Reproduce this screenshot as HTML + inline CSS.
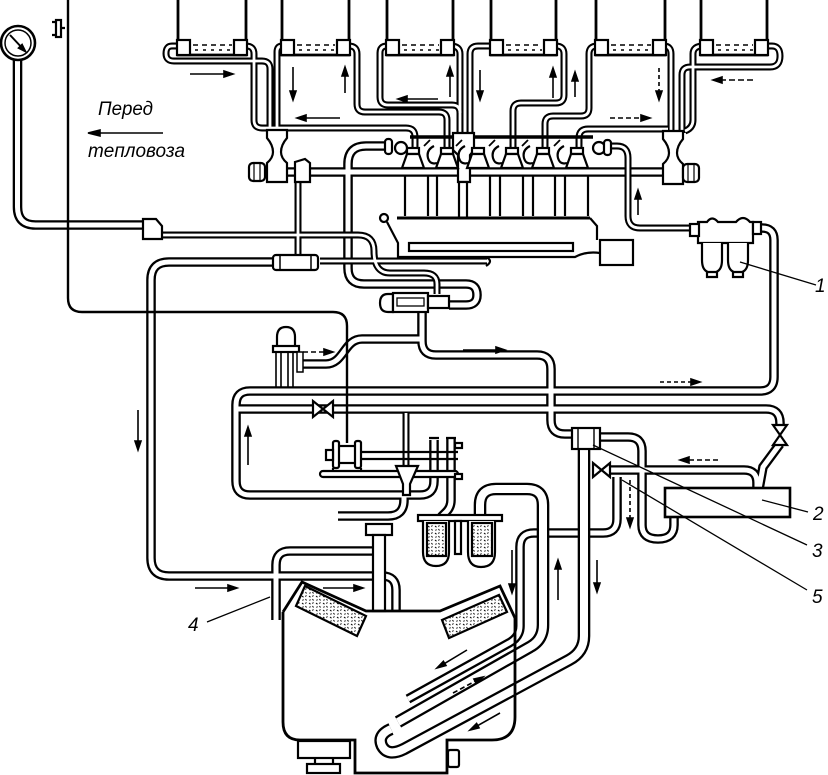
<!DOCTYPE html>
<html><head><meta charset="utf-8"><style>
html,body{margin:0;padding:0;background:#fff}
svg{display:block}
text{font-family:"Liberation Sans","DejaVu Sans",sans-serif;font-style:italic;fill:#000}
</style></head><body>
<svg width="828" height="775" viewBox="0 0 828 775" xmlns="http://www.w3.org/2000/svg">
<defs>
<pattern id="st" width="7" height="7" patternUnits="userSpaceOnUse">
<rect width="7" height="7" fill="#fff"/>
<path d="M1 1l1.5 1.2M4.5 4l1 1.5M5.5 0.5l-1.2 1M1.5 5.5l1-1" stroke="#000" stroke-width="1"/>
</pattern>
<g id="gS" fill="none">
<path d="M178,46 L172,46 Q166,46 166,53.5 Q166,61 174,61 L262,61 Q270,61 270,69 L270,132"/>
<path d="M246,46 Q254,46 254,54 L254,120 Q254,128 262,128 L406,128 Q415,128 415,137 L415,152"/>
<path d="M282,46 Q277,46 277,52 L277,132"/>
<path d="M349,46 Q357,46 357,54 L357,104 Q357,112 365,112 L439,112 Q447,112 447,120 L447,152"/>
<path d="M387,46 Q380,46 380,53 L380,97 Q380,105 388,105 L452,105 Q460,105 460,113"/>
<path d="M451,46 Q460,46 460,54 L460,134"/>
<path d="M491,46 L478,46 Q470,46 470,54 L470,134"/>
<path d="M556,46 Q564,46 564,54 L564,95 Q564,103 556,103 L521,103 Q513,103 513,111 L513,152"/>
<path d="M597,46 Q589,46 589,54 L589,108 Q589,116 581,116 L553,116 Q545,116 545,124 L545,152"/>
<path d="M668,129 L588,129 Q579,129 579,138 L579,152"/>
<path d="M664,46 Q671,46 671,54 L671,133"/>
<path d="M703,46 Q693,46 693,54 L693,120 Q693,128 685,131"/>
<path d="M766,46 L772,46 Q780,46 780,56 Q780,67 770,67 L690,67 Q682,67 682,75 L682,133"/>
<path d="M606,146 L617,146 Q628,146 628,158 L628,216 Q628,228 640,228 L691,228"/>
<path d="M298,182 L298,256"/>
<path d="M406,413 L406,467"/>
<path d="M161,235 L358,235 Q374,235 374,251 Q374,273 390,273 L424,273 Q437,273 437,284 L437,294"/>
<path d="M487,261 L320,261"/>
</g>
<g id="gM" fill="none">
<path d="M250,172 L700,172"/>
<path d="M17.5,60 L17.5,207 Q17.5,225 35.5,225 L145,225"/>
<path d="M390,146 L366,146 Q348,146 348,164 L348,268 Q348,284 364,284 L466,284 Q477,284 477,295 Q477,305 466,305 L449,305"/>
<path d="M273,262 L169,262 Q151,262 151,280 L151,558 Q151,576 169,576 L382,576 Q396,576 396,590 L396,612"/>
<path d="M422,311 L422,341 Q422,355 436,355 L537,355 Q551,355 551,369 L551,420 Q551,434 565,434 L573,434"/>
<path d="M300,364 L326,364 C344,364 344,339 362,339 L420,339"/>
<path d="M759,228 L762,228 Q774,228 774,240 L774,377 Q774,391 760,391 L250,391 Q236,391 236,405 L236,481 Q236,495 250,495 L420,495 Q434,495 434,481 L434,440"/>
<path d="M238,409 L766,409 Q780,409 780,423 L780,426"/>
<path d="M599,437 L628,437 Q642,437 642,451 L642,525 Q642,539 658,539 Q674,539 674,525 L674,517"/>
<path d="M338,516 L388,516 Q404,516 404,500 L404,496"/>
<path d="M373,551 L290,551 Q276,551 276,565 L276,620"/>
<path d="M610,470 L744,470 Q757,470 757,483 L757,489"/>
<path d="M780,444 L763,467 L759,489"/>
<path d="M617,477 L617,519 Q617,533 603,533 L534,533 Q520,533 520,547 L520,626 Q520,637 509,643 L408,699"/>
<path d="M451,438 L451,500 Q451,508 445,513 L441,517"/>
</g>
<g id="gL" fill="none">
<path d="M480,516 L480,505 Q480,489 496,489 L527,489 Q543,489 543,505 L543,625 Q543,640 530,647 L398,722"/>
<path d="M584,450 L584,636 Q584,652 569,660 L404,749 Q388,757 382,746 Q377,735 391,729"/>
</g>
</defs>

<rect width="828" height="775" fill="#fff"/>

<!-- pipes -->
<use href="#gM" stroke="#000" stroke-width="9.6"/>
<use href="#gM" stroke="#fff" stroke-width="5"/>
<use href="#gS" stroke="#000" stroke-width="7"/>
<use href="#gS" stroke="#fff" stroke-width="2.8"/>
<use href="#gL" stroke="#000" stroke-width="12.6"/>
<use href="#gL" stroke="#fff" stroke-width="8"/>

<g stroke="#000" stroke-width="2.2" fill="none">
<!-- gauge -->
<circle cx="18" cy="43" r="17" fill="#fff" stroke-width="2.6"/>
<circle cx="18" cy="43" r="13" stroke-width="1.5"/>
<path d="M10,35 L25,51" stroke-width="2"/>
<polygon points="25,51 19,48 22,45" fill="#000"/>
<!-- small bracket -->
<rect x="56" y="20" width="5" height="17" fill="#fff"/>
<path d="M52,22 H56 M52,35 H56 M61,28 H65"/>
<!-- long thin line -->
<path d="M68,0 V298 Q68,312 82,312 H333 Q347,312 347,326 V443" stroke-width="2.4"/>

<!-- tanks -->
<g stroke-width="2.8">
<path d="M178,0 V55 H246 V0"/>
<path d="M282,0 V55 H349 V0"/>
<path d="M387,0 V55 H453 V0"/>
<path d="M491,0 V55 H556 V0"/>
<path d="M596,0 V55 H665 V0"/>
<path d="M701,0 V55 H767 V0"/>
</g>
<g fill="#fff">
<rect x="177" y="40" width="13" height="15"/><rect x="234" y="40" width="13" height="15"/>
<rect x="281" y="40" width="13" height="15"/><rect x="337" y="40" width="13" height="15"/>
<rect x="386" y="40" width="13" height="15"/><rect x="441" y="40" width="13" height="15"/>
<rect x="490" y="40" width="13" height="15"/><rect x="544" y="40" width="13" height="15"/>
<rect x="595" y="40" width="13" height="15"/><rect x="653" y="40" width="13" height="15"/>
<rect x="700" y="40" width="13" height="15"/><rect x="755" y="40" width="13" height="15"/>
</g>
<g stroke-width="1.6" stroke-dasharray="5 4">
<path d="M193,45 H232 M297,45 H335 M402,45 H439 M506,45 H542 M611,45 H651 M716,45 H753"/>
</g>
<g stroke-width="1.4" stroke-dasharray="3 5">
<path d="M195,50 H232 M299,50 H335 M404,50 H439 M508,50 H542 M613,50 H651 M718,50 H753"/>
</g>

<!-- cam bar -->
<path d="M410,137 H593" stroke-width="3.5"/>
<!-- fittings on manifold -->
<path d="M267,130 H287 V138 Q281,145 281,152 Q281,158 287,163 V182 H267 V163 Q273,158 273,152 Q273,145 267,138 Z" fill="#fff"/>
<path d="M663,131 H683 V139 Q677,146 677,153 Q677,159 683,164 V184 H663 V164 Q669,159 669,153 Q669,146 663,139 Z" fill="#fff"/>
<rect x="249" y="163" width="16" height="18" rx="4" fill="#fff"/>
<path d="M254,163 V181 M260,163 V181" stroke-width="1.2"/>
<rect x="683" y="164" width="16" height="18" rx="4" fill="#fff"/>
<path d="M688,164 V182 M694,164 V182" stroke-width="1.2"/>
<path d="M295,162 L305,159 L310,163 V182 H295 Z" fill="#fff"/>
<path d="M453,133 H474 V150 L470,155 V182 H458 V155 L453,150 Z" fill="#fff"/>
<rect x="459" y="182" width="8" height="36" fill="#fff"/>
<!-- pumps -->
<g fill="#fff">
<rect x="407" y="148" width="12" height="6"/><polygon points="407,154 419,154 424,168 402,168"/>
<rect x="441" y="148" width="12" height="6"/><polygon points="441,154 453,154 458,168 436,168"/>
<rect x="472" y="148" width="12" height="6"/><polygon points="472,154 484,154 489,168 467,168"/>
<rect x="506" y="148" width="12" height="6"/><polygon points="506,154 518,154 523,168 501,168"/>
<rect x="537" y="148" width="12" height="6"/><polygon points="537,154 549,154 554,168 532,168"/>
<rect x="571" y="148" width="12" height="6"/><polygon points="571,154 583,154 588,168 566,168"/>
</g>
<path d="M434,146 Q426,150 428,158 Q430,165 437,163 M465,146 Q457,150 459,158 Q461,165 468,163 M499,146 Q491,150 493,158 Q495,165 502,163 M530,146 Q522,150 524,158 Q526,165 533,163 M564,146 Q556,150 558,158 Q560,165 567,163" stroke-width="2.2"/>
<path d="M424,146 L430,140 M456,146 L462,140 M489,146 L495,140 M522,146 L528,140 M554,146 L560,140" stroke-width="1.8"/>
<!-- valves rings -->
<rect x="385" y="139" width="7" height="15" rx="3" fill="#fff"/>
<circle cx="401" cy="148" r="6" fill="#fff"/>
<circle cx="599" cy="148" r="6" fill="#fff"/>
<rect x="604" y="140" width="7" height="15" rx="3" fill="#fff"/>

<!-- pushrods -->
<path d="M405,176 V216 M428,176 V216 M437,176 V216 M490,176 V216 M500,176 V216 M523,176 V216 M533,176 V216 M555,176 V216 M565,176 V216 M588,176 V216"/>
<!-- engine block -->
<path d="M397,218 H590" stroke-width="3"/>
<circle cx="384" cy="218" r="4"/>
<path d="M387,222 L398,243 L398,257 H575 Q586,251 600,253"/>
<path d="M590,218 L597,226 V240"/>
<rect x="409" y="243" width="164" height="8" fill="#fff"/>
<rect x="600" y="240" width="33" height="25" fill="#fff" stroke-width="2.2"/>
<!-- pipe ends -->
<path d="M486,257 Q494,261 486,266"/>
<!-- gauge pipe fitting -->
<path d="M143,219 L156,219 L162,226 V239 H143 Z" fill="#fff"/>
<!-- fitting on y262 pipe -->
<rect x="273" y="255" width="45" height="15" rx="3" fill="#fff"/>
<path d="M280,255 V270 M311,255 V270" stroke-width="1.5"/>
<!-- fuel pump -->
<path d="M393,294 H388 Q380,294 380,303 Q380,312 388,312 H393 Z" fill="#fff"/>
<rect x="393" y="293" width="35" height="19" fill="#fff"/>
<rect x="397" y="298" width="27" height="8" stroke-width="1.3"/>
<rect x="428" y="296" width="21" height="12" fill="#fff"/>
<!-- bleed cylinder -->
<path d="M277,347 V337 Q277,327 286,327 Q295,327 295,337 V347" fill="#fff"/>
<rect x="273" y="346" width="26" height="6" fill="#fff"/>
<path d="M276,352 V388 M281,352 V388 M288,352 V388 M293,352 V388" stroke-width="1.6"/>
<rect x="297" y="352" width="6" height="20" fill="#fff" stroke-width="1.5"/>

<!-- filter 1 -->
<path d="M698,243 V222 H707 Q712,215 718,222 H736 Q743,214 750,222 H753 V243 Z" fill="#fff"/>
<rect x="690" y="224" width="9" height="12" fill="#fff"/>
<rect x="753" y="222" width="8" height="12" fill="#fff"/>
<path d="M702,243 V260 Q702,270 708,272 H716 Q722,270 722,260 V243" fill="#fff"/>
<path d="M728,243 V260 Q728,270 734,272 H742 Q748,270 748,260 V243" fill="#fff"/>
<path d="M707,272 V277 H717 V272 M733,272 V277 H743 V272"/>

<!-- valves -->
<polygon points="313,401 313,417 333,401 333,417" fill="#fff"/>
<polygon points="773,425 787,425 773,445 787,445" fill="#fff"/>
<polygon points="593,463 593,477 610,463 610,477" fill="#fff"/>
<!-- fitting 3 -->
<rect x="572" y="428" width="28" height="21" fill="#fff"/>
<path d="M578,428 V449 M594,428 V449" stroke-width="1.4"/>
<!-- heat exchanger 2 -->
<rect x="665" y="488" width="125" height="29" fill="#fff" stroke-width="2.6"/>

<!-- motor and base -->
<rect x="320" y="471" width="138" height="6" rx="3" fill="#fff"/>
<path d="M362,452 H458 M362,459 H458"/>
<rect x="336" y="446" width="22" height="17" fill="#fff"/>
<rect x="333" y="441" width="6" height="27" rx="2" fill="#fff"/>
<rect x="355" y="441" width="6" height="27" rx="2" fill="#fff"/>
<rect x="326" y="450" width="7" height="10" fill="#fff"/>
<path d="M333,468 V471 M361,468 V471"/>
<polygon points="396,466 418,466 410,484 410,495 403,495 403,484" fill="#fff"/>
<rect x="455" y="443" width="7" height="5" fill="#fff"/>
<rect x="455" y="474" width="7" height="5" fill="#fff"/>
<path d="M429,438 H439 M446,438 H456"/>

<!-- filter elements -->
<rect x="418" y="515" width="84" height="6" fill="#fff"/>
<path d="M423,521 V552 Q423,566 436,566 Q449,566 449,552 V521" fill="#fff"/>
<rect x="427" y="523" width="19" height="33" fill="url(#st)"/>
<rect x="455" y="521" width="6" height="33" fill="#fff"/>
<path d="M468,521 V552 Q468,567 481,567 Q495,567 495,552 V521" fill="#fff"/>
<rect x="472" y="523" width="20" height="33" fill="url(#st)"/>

<!-- post -->
<rect x="366" y="524" width="26" height="11" fill="#fff"/>
<rect x="373" y="535" width="12" height="76" fill="#fff"/>

<!-- tank -->
<g stroke-width="2.8">
<path d="M283,612 V722 Q283,740 300,740 H355 V773 H447 V740 H492 Q515,740 515,717 V618"/>
<path d="M283,612 L302,582 L366,611 H440 L500,586 L515,618"/>
</g>
<polygon points="305,586 366,616 357,636 296,606" fill="url(#st)" stroke-width="2.2"/>
<polygon points="442,620 499,595 507,612 449,638" fill="url(#st)" stroke-width="2.2"/>
<rect x="298" y="741" width="52" height="17" fill="#fff"/>
<path d="M315,758 V764 M333,758 V764"/>
<rect x="307" y="764" width="33" height="9" fill="#fff"/>
<rect x="448" y="750" width="11" height="17" rx="2" fill="#fff"/>

<!-- leader lines -->
<path d="M740,262 L816,285 M762,500 L808,512 M593,445 L807,545 M622,480 L807,590 M270,597 L207,622" stroke-width="1.3"/>
</g>

<!-- arrows -->
<g stroke="#000" stroke-width="1.6" fill="#000">
<path d="M190,74 H224"/><polygon points="224,71 224,77 233,74"/>
<path d="M293,67 V91"/><polygon points="290,91 296,91 293,100"/>
<path d="M345,93 V76"/><polygon points="342,76 348,76 345,67"/>
<path d="M340,118 H306"/><polygon points="306,115 306,121 297,118"/>
<path d="M438,99 H407"/><polygon points="407,96 407,102 398,99"/>
<path d="M450,97 V76"/><polygon points="447,76 453,76 450,67"/>
<path d="M480,70 V91"/><polygon points="477,91 483,91 480,100"/>
<path d="M553,98 V77"/><polygon points="550,77 556,77 553,68"/>
<path d="M575,97 V81"/><polygon points="572,81 578,81 575,72"/>
<path d="M659,68 V91" stroke-dasharray="4 3"/><polygon points="656,91 662,91 659,100"/>
<path d="M753,80 H722" stroke-dasharray="6 3"/><polygon points="722,77 722,83 713,80"/>
<path d="M610,118 H641" stroke-dasharray="5 3"/><polygon points="641,115 641,121 650,118"/>
<path d="M638,215 V199"/><polygon points="635,199 641,199 638,190"/>
<path d="M138,410 V441"/><polygon points="135,441 141,441 138,450"/>
<path d="M248,465 V436"/><polygon points="245,436 251,436 248,427"/>
<path d="M303,352 H324" stroke-dasharray="5 3"/><polygon points="324,349 324,355 333,352"/>
<path d="M463,350 H496"/><polygon points="496,347 496,353 505,350"/>
<path d="M660,382 H691" stroke-dasharray="4 3"/><polygon points="691,379 691,385 700,382"/>
<path d="M718,460 H689" stroke-dasharray="5 3"/><polygon points="689,457 689,463 680,460"/>
<path d="M630,480 V518" stroke-dasharray="4 3"/><polygon points="627,518 633,518 630,527"/>
<path d="M558,600 V569"/><polygon points="555,569 561,569 558,560"/>
<path d="M597,560 V583"/><polygon points="594,583 600,583 597,592"/>
<path d="M512,550 V584"/><polygon points="509,584 515,584 512,593"/>
<path d="M195,588 H228"/><polygon points="228,585 228,591 237,588"/>
<path d="M323,588 H354"/><polygon points="354,585 354,591 363,588"/>
<path d="M467,650 L444.7,663.4"/><polygon points="446,665.5 443.4,661.3 437,668"/>
<path d="M453,693 L475.1,681.2" stroke-dasharray="5 3"/><polygon points="476.3,683.4 473.9,679 483,677"/>
<path d="M500,713 L477.8,725.6"/><polygon points="479,727.8 476.6,723.4 470,730"/>
<path d="M163,133 H100"/><polygon points="100,130 100,136 88,133"/>
</g>

<!-- text -->
<text x="98" y="115" font-size="19" textLength="55" lengthAdjust="spacingAndGlyphs">Перед</text>
<text x="88" y="157" font-size="19" textLength="97" lengthAdjust="spacingAndGlyphs">тепловоза</text>
<text x="815" y="292" font-size="19">1</text>
<text x="813" y="520" font-size="19">2</text>
<text x="812" y="557" font-size="19">3</text>
<text x="812" y="603" font-size="19">5</text>
<text x="188" y="631" font-size="19">4</text>
</svg>
</body></html>
